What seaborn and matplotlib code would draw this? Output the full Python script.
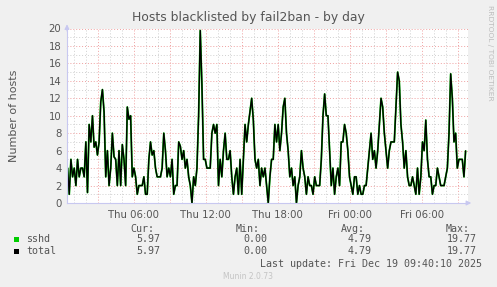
import numpy as np
import pandas as pd
import matplotlib
matplotlib.use("Agg")
import matplotlib.pyplot as plt
import matplotlib.dates as mdates
from matplotlib.ticker import FuncFormatter, MultipleLocator
import seaborn as sns

# ---------------- data ----------------
title = "Hosts blacklisted by fail2ban - by day"
y_label = "Number of hosts"
series_names = ["sshd", "total"]
series_colors = ["#00CC00", "#000000"]

start_time = "2025-12-18 00:30"
end_time = "2025-12-19 09:40"
view_start = "2025-12-18 00:27"
view_end = "2025-12-19 09:52"

hosts = [
    # Thu 00:30 - ~06:00
    4, 1, 5, 3, 4, 2, 5, 3, 4, 4, 3, 7, 1.2, 9, 7, 10, 6.4, 7, 5.5, 7,
    11.6, 13, 10.4, 3, 6, 2, 4, 8, 5.3, 5, 2, 6, 2, 6.7, 5, 2, 11, 9.6, 10, 3,
    # ~06:00 - ~11:50
    4, 3, 1, 2, 2, 2, 3, 1, 1, 5, 7, 5.5, 6, 4, 3, 3, 3, 4, 8, 6,
    3, 4, 3, 5, 1, 2, 2, 7, 6.5, 5, 6, 4, 5, 3, 2, 0, 3, 2, 4, 10, 19.77,
    # ~11:50 - ~17:30
    13.5, 5, 5, 4, 4, 4, 8, 9, 8, 9, 2, 5, 3, 6, 8, 5, 5, 6, 3, 1,
    3, 4, 1, 5, 1, 5, 9, 7, 9, 10.5, 12, 9.5, 5, 4, 5, 2, 4, 3, 4, 2, 0,
    # ~17:30 - ~23:00
    3, 5, 5, 9, 7, 9, 6, 8, 11, 12, 8, 6, 3, 4, 2, 3, 0, 2, 3, 6,
    4, 3, 1, 3, 2, 2, 1, 3, 2, 2, 2, 5, 10, 12.5, 10, 10, 6, 2, 4, 1, 3,
    # ~23:00 - Fri ~04:30
    4, 2, 7, 7, 9, 8, 6, 3, 2, 1, 3, 3, 1, 2, 1, 1, 2, 2, 4, 6,
    8, 5, 6, 4, 6, 9, 12, 11, 8, 6, 4, 6, 7, 7, 7, 11, 15, 14, 9, 7, 4,
    # Fri ~04:30 - 09:40
    6, 3, 2, 2, 3, 2, 1, 4, 1, 3, 7, 6, 9.5, 5, 3, 3, 1, 2, 2, 4,
    3, 2, 2, 2, 3, 4, 8, 14.8, 12, 7, 8, 4, 5, 5, 5, 3, 5.97,
]

legend_rows = [
    ("sshd", "5.97", "0.00", "4.79", "19.77"),
    ("total", "5.97", "0.00", "4.79", "19.77"),
]
legend_headers = ["Cur:", "Min:", "Avg:", "Max:"]
last_update = "Last update: Fri Dec 19 09:40:10 2025"
footer = "Munin 2.0.73"
side_text = "RRDTOOL / TOBI OETIKER"

# ---------------- frame ----------------
times = pd.date_range(start_time, end_time, periods=len(hosts))
df = pd.concat(
    [pd.DataFrame({"time": times, "hosts": hosts, "series": name}) for name in series_names],
    ignore_index=True,
)

sns.set_style("white")
plt.rcParams["font.family"] = ["DejaVu Sans"]

W, H = 497, 287
fig = plt.figure(figsize=(W / 100, H / 100), dpi=100, facecolor="#F0F0F0")
ax = fig.add_axes([67 / W, (H - 203) / H, (468 - 67) / W, (203 - 28.5) / H])
ax.set_facecolor("white")

txt_col = "#555555"
minor_col = "#D0D0D0"
major_col = "#EFA0A0"
axis_col = "#C8C8F0"

sns.lineplot(data=df[df.series == "sshd"], x="time", y="hosts", color=series_colors[0],
             lw=1.3, ax=ax, legend=False, estimator=None)
sns.lineplot(data=df[df.series == "total"], x="time", y="hosts", color=series_colors[1],
             lw=1.0, ax=ax, legend=False, estimator=None)

ax.set_xlim(pd.Timestamp(view_start), pd.Timestamp(view_end))
ax.set_ylim(0, 20)

ax.xaxis.set_major_locator(mdates.HourLocator(byhour=range(0, 24, 3)))
ax.xaxis.set_minor_locator(mdates.HourLocator(interval=1))


def fmt_x(v, pos):
    d = mdates.num2date(v)
    if d.hour % 6 == 0 and d.minute == 0:
        return d.strftime("%a %H:%M")
    return ""


ax.xaxis.set_major_formatter(FuncFormatter(fmt_x))
ax.yaxis.set_major_locator(MultipleLocator(2))
ax.yaxis.set_minor_locator(MultipleLocator(1))

ax.grid(which="minor", color=minor_col, lw=0.7, ls=(0, (1, 2)))
ax.grid(which="major", color=major_col, lw=0.7, ls=(0, (1, 2)))
ax.set_axisbelow(True)

ax.tick_params(axis="both", which="both", length=0, labelsize=7.3, labelcolor=txt_col)
ax.tick_params(axis="x", pad=5)
ax.tick_params(axis="y", pad=4)

for s in ["top", "right"]:
    ax.spines[s].set_visible(False)
for s in ["left", "bottom"]:
    ax.spines[s].set_color(axis_col)
    ax.spines[s].set_linewidth(0.8)

# axis arrows
ax.annotate("", xy=(0, 1.04), xytext=(0, 0.97), xycoords="axes fraction",
            arrowprops=dict(arrowstyle="-|>", color=axis_col, lw=0.8, mutation_scale=7),
            annotation_clip=False)
ax.annotate("", xy=(1.015, 0), xytext=(0.99, 0), xycoords="axes fraction",
            arrowprops=dict(arrowstyle="-|>", color=axis_col, lw=0.8, mutation_scale=7),
            annotation_clip=False)

ax.set_xlabel("")
ax.set_ylabel(y_label, fontsize=8, color=txt_col, labelpad=21)

fig.text(248 / W, 1 - 18 / H, title, ha="center", va="center", fontsize=8.9, color=txt_col)
fig.text(490 / W, 1 - 5 / H, side_text, ha="center", va="top", rotation=270,
         fontsize=5.4, color="#BDBDBD")

# legend table (monospace)
mono = "DejaVu Sans Mono"
fs = 7.2
def fy(y):
    return 1 - y / H

header_right = [154, 260, 365, 470]
value_right = [160, 267, 372, 477]
for hx, h in zip(header_right, legend_headers):
    fig.text(hx / W, fy(228.5), h, ha="right", va="center", family=mono, fontsize=fs, color=txt_col)
for (name, *vals), ry, col in zip(legend_rows, [239.5, 251], series_colors):
    fig.patches.append(plt.Rectangle((14 / W, fy(ry + 2.5)), 5 / W, 5 / H, transform=fig.transFigure,
                                     facecolor=col, edgecolor="none"))
    fig.text(26.5 / W, fy(ry), name, ha="left", va="center", family=mono, fontsize=fs, color=txt_col)
    for vx, v in zip(value_right, vals):
        fig.text(vx / W, fy(ry), v, ha="right", va="center", family=mono, fontsize=fs, color=txt_col)
fig.text(482 / W, fy(264), last_update, ha="right", va="center", family=mono, fontsize=fs, color=txt_col)
fig.text(248 / W, fy(276.5), footer, ha="center", va="center", fontsize=5.5, color="#C4C4C4")

fig.savefig("out.png", dpi=100, facecolor=fig.get_facecolor())
